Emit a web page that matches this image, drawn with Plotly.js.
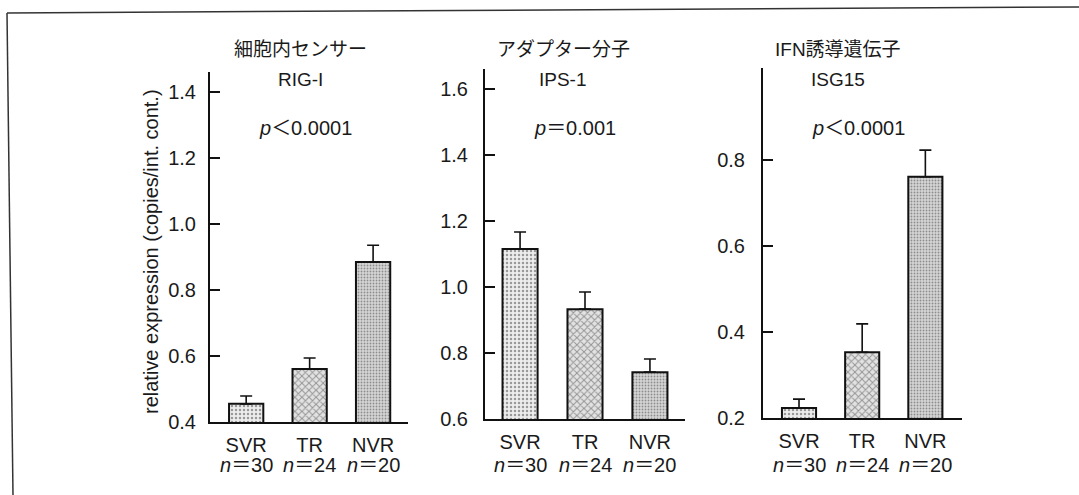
<!DOCTYPE html>
<html>
<head>
<meta charset="utf-8">
<script src="https://cdn.plot.ly/plotly-3.0.1.min.js"></script>
<style>html,body{margin:0;padding:0;background:#fff;}#chart{width:1079px;height:495px;}</style>
</head>
<body>
<div id="chart"></div>
<script>
// ---- data ----
const categories = ['SVR', 'TR', 'NVR'];
const nLabels = ['30', '24', '20'];
const panelTitles = ['細胞内センサー', 'アダプター分子', 'IFN誘導遺伝子'];
const geneNames = ['RIG-I', 'IPS-1', 'ISG15'];
const pTexts = ['<i>p</i>＜0.0001', '<i>p</i>＝0.001', '<i>p</i>＜0.0001'];
const rigI = [0.455, 0.561, 0.885];
const rigIErr = [0.024, 0.033, 0.051];
const ips1 = [1.115, 0.933, 0.742];
const ips1Err = [0.052, 0.052, 0.040];
const isg15 = [0.223, 0.353, 0.761];
const isg15Err = [0.021, 0.066, 0.062];
const ticks1 = [0.4, 0.6, 0.8, 1.0, 1.2, 1.4];
const ticks2 = [0.6, 0.8, 1.0, 1.2, 1.4, 1.6];
const ticks3 = [0.2, 0.4, 0.6, 0.8];
const yTitle = 'relative expression (copies/int. cont.)';

// ---- layout helpers ----
const W = 1079, H = 495;
const px = x => x / W;
const py = y => 1 - y / H;
const FONT = '"Liberation Sans", Arial, "Noto Sans CJK JP", sans-serif';
const TXT = '#1a1a1a';

const fills = ['#ededed', '#e2e2e2', '#d6d6d6'];
const patterns = [
  {shape: '.', fgcolor: '#b8b8b8', size: 4, solidity: 0.3},
  {shape: 'x', fgcolor: '#404040', size: 5, solidity: 0.35},
  {shape: '.', fgcolor: '#aaaaaa', size: 3, solidity: 0.3}
];

const panels = [
  {vals: rigI, errs: rigIErr, ticks: ticks1, yr: [0.4, 1.461], xr: [-0.57, 2.55], xd: [210, 408], yd: [422, 72], tcx: 300, pcx: 305, stand: 8},
  {vals: ips1, errs: ips1Err, ticks: ticks2, yr: [0.6, 1.661], xr: [-0.54, 2.54], xd: [485, 685], yd: [419, 69], tcx: 563, pcx: 575, stand: 11},
  {vals: isg15, errs: isg15Err, ticks: ticks3, yr: [0.2, 1.014], xr: [-0.57, 2.58], xd: [763, 962], yd: [418, 68], tcx: 838, pcx: 858, stand: 12}
];

const data = [];
const layout = {
  width: W, height: H,
  margin: {l: 0, r: 0, t: 0, b: 0},
  paper_bgcolor: '#fff', plot_bgcolor: 'rgba(0,0,0,0)',
  showlegend: false,
  font: {family: FONT, color: TXT, size: 19},
  annotations: [],
  shapes: [
    {type: 'line', xref: 'paper', yref: 'paper', x0: px(7), y0: py(13), x1: px(1079), y1: py(7), line: {color: '#333', width: 1.5}},
    {type: 'line', xref: 'paper', yref: 'paper', x0: px(7), y0: py(13), x1: px(13), y1: py(495), line: {color: '#333', width: 1.5}}
  ]
};

panels.forEach((p, i) => {
  const k = i === 0 ? '' : String(i + 1);
  const xa = 'x' + k, ya = 'y' + k;
  data.push({
    type: 'bar', x: categories, y: p.vals, xaxis: xa, yaxis: ya,
    width: 0.54,
    marker: {
      color: fills,
      pattern: {
        shape: patterns.map(q => q.shape),
        fgcolor: patterns.map(q => q.fgcolor),
        size: patterns.map(q => q.size),
        solidity: patterns.map(q => q.solidity),
        fillmode: 'overlay'
      },
      line: {color: '#111', width: 2}
    },
    error_y: {type: 'data', symmetric: false, array: p.errs, arrayminus: p.errs.map(() => 0), color: '#111', thickness: 1.6, width: 6},
    hoverinfo: 'none'
  });
  layout['xaxis' + k] = {
    domain: [px(p.xd[0]), px(p.xd[1])], anchor: ya,
    type: 'category', range: p.xr,
    showline: true, linecolor: '#111', linewidth: 2,
    ticks: '', showgrid: false, zeroline: false, fixedrange: true,
    tickfont: {family: FONT, size: 20, color: TXT},
    ticklabelstandoff: 4
  };
  layout['yaxis' + k] = {
    domain: [py(p.yd[0]), py(p.yd[1])], anchor: xa,
    range: p.yr, tickvals: p.ticks, ticktext: p.ticks.map(v => v.toFixed(1)),
    showline: true, linecolor: '#111', linewidth: 2,
    ticks: 'inside', ticklen: 10, tickwidth: 1.5, tickcolor: '#111',
    showgrid: false, zeroline: false, fixedrange: true,
    tickfont: {family: FONT, size: 20, color: TXT},
    ticklabelstandoff: p.stand
  };
  layout.annotations.push(
    {xref: 'paper', yref: 'paper', x: px(p.tcx), y: py(50), text: panelTitles[i], showarrow: false, xanchor: 'center', yanchor: 'middle', font: {size: 19}},
    {xref: 'paper', yref: 'paper', x: px(p.tcx), y: py(79), text: geneNames[i], showarrow: false, xanchor: 'center', yanchor: 'middle', font: {size: 19}},
    {xref: 'paper', yref: 'paper', x: px(p.pcx), y: py(128), text: pTexts[i], showarrow: false, xanchor: 'center', yanchor: 'middle', font: {size: 20}}
  );
  categories.forEach((c, j) => {
    layout.annotations.push({xref: xa, yref: 'paper', x: c, y: py(465), text: '<i>n</i>＝' + nLabels[j], showarrow: false, xanchor: 'center', yanchor: 'middle', font: {size: 20}});
  });
});

layout.annotations.push({xref: 'paper', yref: 'paper', x: px(151), y: py(252), text: yTitle, textangle: -90, showarrow: false, xanchor: 'center', yanchor: 'middle', font: {size: 20}});

Plotly.newPlot('chart', data, layout, {displayModeBar: false, staticPlot: true});
</script>
</body>
</html>
